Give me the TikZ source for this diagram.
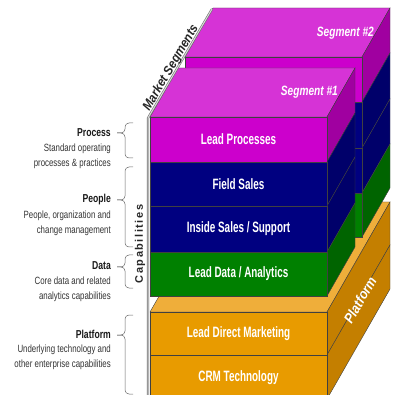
\documentclass[tikz,border=0pt]{standalone}
\usepackage{fontspec}
\setmainfont{Liberation Sans}
\newfontfamily\blockfont[FakeStretch=0.66]{Liberation Sans}
\newfontfamily\narrowfont[FakeStretch=0.75]{Liberation Sans}
\newfontfamily\slantfont[FakeStretch=0.9]{Liberation Sans}
\newfontfamily\spacedfont[LetterSpace=14]{Liberation Sans}

% layer colours: front / side / top
\definecolor{procfront}{HTML}{CC00CC}
\definecolor{procside}{HTML}{A000A0}
\definecolor{proctop}{HTML}{D633D6}
\definecolor{peopfront}{HTML}{000080}
\definecolor{peopside}{HTML}{00006A}
\definecolor{datafront}{HTML}{008000}
\definecolor{dataside}{HTML}{006400}
\definecolor{platfront}{HTML}{E89B00}
\definecolor{platside}{HTML}{C47F00}
\definecolor{plattop}{HTML}{EFAE3A}

\begin{document}
\begin{tikzpicture}[
    x=1pt, y=-1pt,
    face/.style={draw=black!75, line width=0.4pt},
    blocklabel/.style={text=white, font=\blockfont\fontsize{15}{18}\selectfont\bfseries, inner sep=0pt},
    seglabel/.style={text=white, font=\narrowfont\fontsize{13.5}{16}\selectfont\bfseries\itshape, inner sep=0pt},
    title/.style={anchor=east, text=black!90, font=\narrowfont\fontsize{11.5}{14}\selectfont\bfseries, inner sep=0pt},
    desc/.style={anchor=east, align=right, text=black!80, font=\narrowfont\fontsize{10.5}{15.3}\selectfont, inner sep=0pt},
    capbrace/.style={draw=black!60, line width=0.5pt, rounded corners=4pt},
    axisline/.style={draw=black!55, double=black!15, line width=0.6pt, double distance=1pt}
]
\useasboundingbox (0,0) rectangle (396,395);
\clip (0,0) rectangle (396,395);

% Platform (below both segments)
\fill[face, fill=plattop] (150,312) -- (327,312) -- (390,202) -- (213,202) -- cycle;
\fill[face, fill=platside] (327,312) -- (390,202) -- (390,245) -- (327,355) -- cycle;
\fill[face, fill=platside] (327,355) -- (390,245) -- (390,289) -- (327,399) -- cycle;
\fill[face, fill=platfront] (150,312) rectangle (327,355);
\fill[face, fill=platfront] (150,355) rectangle (327,399);

% Segment #2 (back)
\fill[face, fill=proctop] (185,57) -- (362,57) -- (390,8) -- (213,8) -- cycle;
\foreach \t/\b/\cf/\cs in {57/102/procfront/procside, 102/148/peopfront/peopside,
                           148/193/peopfront/peopside, 193/237/datafront/dataside} {
    \fill[face, fill=\cs] (362,\t) -- (390,\t-49) -- (390,\b-49) -- (362,\b) -- cycle;
    \fill[face, fill=\cf] (185,\t) rectangle (362,\b);
}

% Segment #1 (front)
\fill[face, fill=proctop] (150,117) -- (327,117) -- (355,68) -- (178,68) -- cycle;
\foreach \t/\b/\cf/\cs/\name/\txt in {117/162/procfront/procside/lproc/Lead Processes,
                                      162/206/peopfront/peopside/field/Field Sales,
                                      206/252/peopfront/peopside/inside/{Inside Sales / Support},
                                      252/296/datafront/dataside/ldata/{Lead Data / Analytics}} {
    \fill[face, fill=\cs] (327,\t) -- (355,\t-49) -- (355,\b-49) -- (327,\b) -- cycle;
    \fill[face, fill=\cf] (150,\t) rectangle (327,\b);
    \node[blocklabel] (\name) at (238.5,{(\t+\b)/2}) {\txt};
}

% Platform labels
\node[blocklabel] (direct) at (238.5,333.5) {Lead Direct Marketing};
\node[blocklabel] (crm) at (238.5,378) {CRM Technology};
\node[seglabel, rotate=60, font=\slantfont\fontsize{14}{16}\selectfont\bfseries\itshape] (platname) at (360,300) {Platform};

% Segment labels
\node[seglabel, anchor=east] (seg2) at (374,33) {Segment \#2};
\node[seglabel, anchor=east] (seg1) at (338,92) {Segment \#1};

% Axes
\draw[axisline] (212,9) -- (148,118) -- (148,400);
\node[rotate=59.5, text=black!85, font=\slantfont\fontsize{13}{16}\selectfont\bfseries\itshape, inner sep=0pt] (market) at (171,68) {Market Segments};
\node[rotate=90, text=black!85, font=\spacedfont\fontsize{11}{13}\selectfont\bfseries, inner sep=0pt] (capab) at (140,244) {Capabilities};

% Left-hand legend
\node[title] (process) at (111,133) {Process};
\node[desc] (processd) at (111,156.5) {Standard operating\\processes \& practices};
\node[title] (people) at (111,200) {People};
\node[desc] (peopled) at (111,223) {People, organization and\\change management};
\node[title] (data) at (111,266) {Data};
\node[desc] (datad) at (111,289.5) {Core data and related\\analytics capabilities};
\node[title] (platform) at (111,334) {Platform};
\node[desc] (platformd) at (111,357.5) {Underlying technology and\\other enterprise capabilities};

% Braces
\draw[capbrace] (133,123) -- (125,123) -- (125,133) -- (117,133);
\draw[capbrace] (117,133) -- (125,133) -- (125,158) -- (133,158);
\draw[capbrace] (133,167) -- (125,167) -- (125,200) -- (117,200);
\draw[capbrace] (117,200) -- (125,200) -- (125,247) -- (133,247);
\draw[capbrace] (133,255) -- (125,255) -- (125,267) -- (117,267);
\draw[capbrace] (117,267) -- (125,267) -- (125,288) -- (133,288);
\draw[capbrace] (133,315) -- (125,315) -- (125,335) -- (117,335);
\draw[capbrace] (117,335) -- (125,335) -- (125,394) -- (133,394);
\end{tikzpicture}
\end{document}
